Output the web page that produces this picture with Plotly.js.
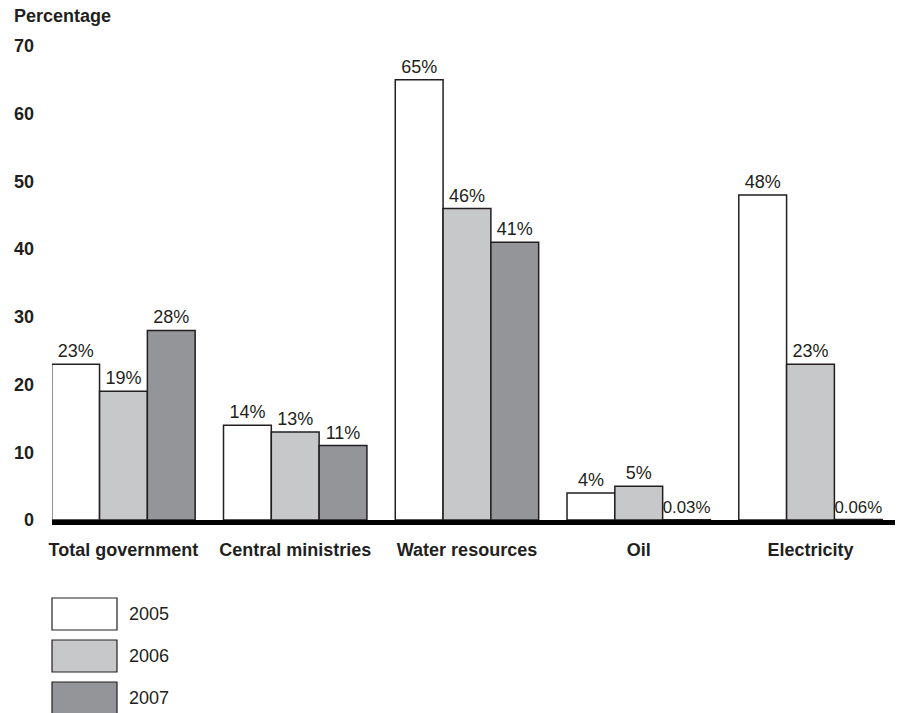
<!DOCTYPE html>
<html>
<head>
<meta charset="utf-8">
<script src="https://cdn.plot.ly/plotly-3.0.1.min.js"></script>
<style>html,body{margin:0;padding:0;background:#fff;}#chart{width:900px;height:713px;}</style>
</head>
<body>
<div id="chart"></div>
<script>
const categories = ["Total government", "Central ministries", "Water resources", "Oil", "Electricity"];
const seriesNames = ["2005", "2006", "2007"];
const values2005 = [23, 14, 65, 4, 48];
const values2006 = [19, 13, 46, 5, 23];
const values2007 = [28, 11, 41, 0.03, 0.06];
const yTicks = [0, 10, 20, 30, 40, 50, 60, 70];

const fills = ["#ffffff", "#c7c8ca", "#939598"];
const edge = "#231f20";
const font = "Liberation Sans, Arial, Helvetica, sans-serif";
const allValues = [values2005, values2006, values2007];

const traces = allValues.map((vals, i) => ({
  type: "bar",
  name: seriesNames[i],
  x: categories,
  y: vals,
  text: vals.map(v => v + "%"),
  textposition: "outside",
  cliponaxis: false,
  textfont: {family: font, size: 18, color: edge},
  marker: {color: fills[i], line: {color: edge, width: 1.5}},
  hoverinfo: "x+y",
  showlegend: false
}));

const shapes = [];
const annotations = [{
  text: "<b>Percentage</b>", xref: "paper", yref: "paper", x: 0, y: 1,
  xshift: -40, yshift: 30, xanchor: "left", yanchor: "middle", showarrow: false,
  font: {family: font, size: 18, color: edge}
}];
seriesNames.forEach((n, i) => {
  const top = 78 + i * 42;
  shapes.push({
    type: "rect", xref: "paper", yref: "paper", xsizemode: "pixel", ysizemode: "pixel",
    xanchor: 0, yanchor: 0, x0: 0, x1: 65, y0: -top, y1: -(top + 32),
    fillcolor: fills[i], line: {color: edge, width: 1.2}
  });
  annotations.push({
    text: n, xref: "paper", yref: "paper", x: 0, y: 0, xshift: 75, yshift: -(top + 16),
    xanchor: "left", yanchor: "middle", showarrow: false,
    font: {family: font, size: 18, color: edge}
  });
});

const layout = {
  width: 900, height: 713,
  margin: {l: 52, r: 5, t: 46, b: 193},
  paper_bgcolor: "#fff", plot_bgcolor: "#fff",
  barmode: "group", bargap: 0.165, bargroupgap: 0,
  font: {family: font, color: edge},
  xaxis: {
    range: [-0.416, 4.492], showline: true, linecolor: "#000", linewidth: 5,
    showgrid: false, zeroline: false, ticks: "", ticklabelstandoff: 9,
    tickfont: {family: font, size: 18, color: edge, weight: "bold"}
  },
  yaxis: {
    range: [0, 70], tickvals: yTicks, showgrid: false, zeroline: false,
    showline: false, ticks: "", ticklabelstandoff: 17,
    tickfont: {family: font, size: 18, color: edge, weight: "bold"}
  },
  shapes: shapes,
  annotations: annotations
};

Plotly.newPlot("chart", traces, layout, {displayModeBar: false, staticPlot: true});
</script>
</body>
</html>
